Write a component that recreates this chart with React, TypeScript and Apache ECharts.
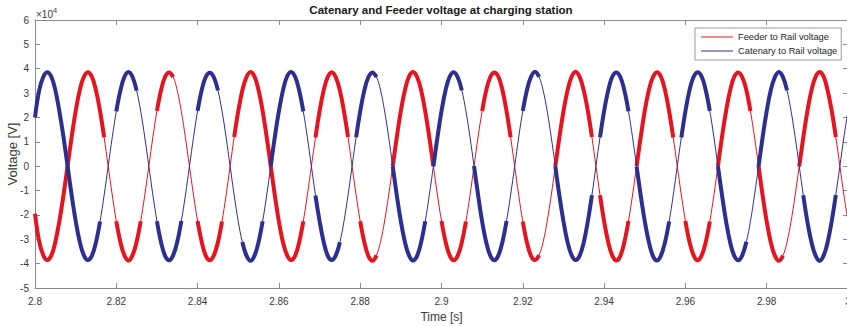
import React, { useEffect, useRef } from "react";
import * as echarts from "echarts";

// Sampling of the recorded traces
const START_TIME = 2.8; // s
const SAMPLE_STEP = 0.001; // s

// Axis ranges and tick spacing
const X_MIN = 2.8;
const X_MAX = 3.0;
const X_STEP = 0.02;
const Y_MIN = -50000;
const Y_MAX = 60000;
const Y_STEP = 10000;
const Y_EXPONENT = 4;

// Feeder to rail voltage [V], one value per millisecond from 2.800 s to 3.000 s
const feederVoltage = [
  -19500, -30700, -36400, -38500, -36700, -31100, -22500, -12000, -100, 11800, 22500, 31100, 36600, 38600, 36700, 31100, 22600, 11900, 100, -11800,
  -22600, -31100, -36600, -38700, -36500, -31000, -22600, -11900, 0, 11900, 22700, 31200, 36700, 38500, 36600, 31000, 22500, 11800, -100, -11900,
  -22500, -31000, -36700, -38600, -36600, -31200, -22700, -12000, 0, 12000, 22600, 31100, 36500, 38700, 36800, 31200, 22700, 11900, 0, -12000,
  -22700, -31200, -36500, -38500, -36700, -31100, -22600, -11800, 100, 11800, 22500, 31000, 36600, 38600, 36500, 31000, 22600, 12000, 0, -11900,
  -22600, -31100, -36800, -38800, -36600, -31000, -22500, -11900, 0, 11900, 22700, 31200, 36800, 38700, 36600, 31100, 22500, 11800, 100, -11800,
  -22500, -31000, -36600, -38600, -36700, -31200, -22700, -12000, -100, 12000, 22600, 31100, 36600, 38500, 36700, 31200, 22600, 11900, 0, -12000,
  -22700, -31200, -36700, -38500, -36500, -31100, -22600, -11900, 0, 11800, 22500, 31000, 36700, 38800, 36600, 31000, 22700, 12000, -100, -11900,
  -22600, -31100, -36600, -38700, -36800, -31000, -22500, -11800, 100, 11900, 22700, 31200, 36500, 38600, 36700, 31100, 22500, 11800, 0, -11800,
  -22500, -31000, -36500, -38600, -36600, -31200, -22700, -12000, 0, 12000, 22600, 31100, 36700, 38500, 36500, 31200, 22600, 11900, 100, -12000,
  -22700, -31200, -36700, -38800, -36700, -31100, -22600, -11900, -100, 11800, 22500, 31000, 36600, 38700, 36800, 31000, 22700, 12000, 0, -11900,
  -22600,
];

// Catenary to rail voltage [V], same sampling
const catenaryVoltage = [
  20000, 30900, 36500, 38600, 36800, 31200, 22500, 12100, 200, -11700, -22400, -31000, -36500, -38500, -36700, -31200, -22700, -12000, -100, 11800,
  22500, 31000, 36700, 38700, 36600, 31000, 22600, 11900, 100, -11800, -22600, -31200, -36800, -38600, -36500, -31000, -22500, -11900, 0, 11900,
  22700, 31200, 36600, 38400, 36500, 31100, 22700, 12000, 0, -11900, -22700, -31100, -36600, -38800, -36700, -31100, -22600, -11800, 100, 12000,
  22600, 31100, 36800, 38700, 36700, 31000, 22500, 11800, -100, -12000, -22500, -31000, -36700, -38500, -36600, -31200, -22700, -12000, 0, 11900,
  22500, 31000, 36500, 38500, 36600, 31200, 22600, 11900, 0, -11900, -22600, -31100, -36600, -38700, -36800, -31100, -22600, -11900, -100, 11800,
  22600, 31200, 36700, 38600, 36500, 31100, 22700, 12000, 100, -11800, -22700, -31200, -36700, -38600, -36600, -31000, -22500, -11800, 0, 12000,
  22700, 31100, 36600, 38800, 36700, 31100, 22600, 11900, 0, -12000, -22600, -31100, -36500, -38500, -36700, -31200, -22600, -11900, 100, 11900,
  22600, 31000, 36700, 38500, 36600, 31000, 22500, 11800, -100, -11900, -22500, -31000, -36800, -38700, -36600, -31100, -22700, -12000, 0, 11800,
  22500, 31100, 36600, 38600, 36800, 31200, 22700, 12000, 0, -11800, -22600, -31200, -36700, -38600, -36500, -31000, -22600, -11900, -100, 11900,
  22600, 31200, 36500, 38700, 36600, 31100, 22600, 11900, 100, -11900, -22700, -31100, -36600, -38800, -36700, -31100, -22500, -11800, 0, 12000,
  22700,
];

// Time stretches [start, end] in seconds where each trace carries heavy switching ripple
const feederRipple = [
  [2.8, 2.817], [2.82, 2.826], [2.83, 2.834], [2.84, 2.846], [2.849, 2.866],
  [2.869, 2.877], [2.88, 2.884], [2.888, 2.898], [2.9, 2.906], [2.91, 2.917],
  [2.92, 2.924], [2.928, 2.937], [2.939, 2.946], [2.948, 2.957], [2.96, 2.966],
  [2.968, 2.976], [2.978, 2.984], [2.988, 2.997],
];
const catenaryRipple = [
  [2.8, 2.816], [2.82, 2.825], [2.83, 2.836], [2.84, 2.845], [2.851, 2.856],
  [2.858, 2.866], [2.869, 2.875], [2.879, 2.884], [2.888, 2.896], [2.898, 2.905],
  [2.908, 2.916], [2.92, 2.924], [2.928, 2.937], [2.939, 2.946], [2.948, 2.956],
  [2.959, 2.966], [2.968, 2.975], [2.978, 2.985], [2.989, 2.997],
];

const FEEDER_NAME = "Feeder to Rail voltage";
const CATENARY_NAME = "Catenary to Rail voltage";
const TITLE = "Catenary and Feeder voltage at charging station";

const FONT = '"Liberation Sans", Arial, Helvetica, sans-serif';
const RED = "#e6141e";
const BLUE = "#2c2f90";
const AXIS_GRAY = "#8a8a8a";
const TEXT_GRAY = "#3a3a3a";

const sampleTimes = feederVoltage.map((_, k) =>
  Number((START_TIME + k * SAMPLE_STEP).toFixed(3))
);

const sampleIndex = (t: number) => Math.round((t - START_TIME) / SAMPLE_STEP);

const inStretch = (k: number, stretches: number[][]) =>
  stretches.some(([s, e]) => k >= sampleIndex(s) && k <= sampleIndex(e));

const tracePoints = (values: number[]) =>
  values.map((v, k) => [sampleTimes[k], v]);

const ripplePoints = (values: number[], stretches: number[][]) =>
  values.map((v, k) => [sampleTimes[k], inStretch(k, stretches) ? v : null]);

const tickLabel = (v: number) => String(Number(v.toFixed(2)));

function buildOption(): echarts.EChartsOption {
  const axisLine = { show: true, onZero: false, lineStyle: { color: AXIS_GRAY, width: 1 } };
  const axisTick = { show: true, inside: true, length: 5, lineStyle: { color: AXIS_GRAY } };
  const labelStyle = { color: TEXT_GRAY, fontSize: 10, fontFamily: FONT };

  const thin = (name: string, values: number[], color: string) => ({
    name,
    type: "line" as const,
    data: tracePoints(values),
    symbol: "none",
    showSymbol: false,
    smooth: 0.4,
    silent: true,
    lineStyle: { color, width: 1 },
    itemStyle: { color },
  });

  const ripple = (name: string, values: number[], stretches: number[][], color: string) => ({
    name,
    type: "line" as const,
    data: ripplePoints(values, stretches),
    symbol: "none",
    showSymbol: false,
    smooth: 0.4,
    silent: true,
    connectNulls: false,
    lineStyle: { color, width: 4, cap: "butt" as const, join: "round" as const },
    itemStyle: { color },
  });

  return {
    animation: false,
    backgroundColor: "#ffffff",
    textStyle: { fontFamily: FONT },
    grid: {
      left: 35,
      top: 20,
      width: 813,
      height: 268,
      containLabel: false,
      outerBoundsMode: "none",
    },
    legend: {
      data: [FEEDER_NAME, CATENARY_NAME],
      orient: "vertical",
      left: 695,
      top: 28,
      backgroundColor: "#ffffff",
      borderColor: "#9a9a9a",
      borderWidth: 1,
      borderRadius: 0,
      padding: [3, 4, 3, 6],
      itemGap: 2,
      icon: "rect",
      itemWidth: 32,
      itemHeight: 1,
      itemStyle: { borderWidth: 0 },
      selectedMode: false,
      textStyle: { fontSize: 9.3, color: "#262626", fontFamily: FONT, lineHeight: 12 },
    },
    xAxis: [
      {
        type: "value",
        position: "bottom",
        min: X_MIN,
        max: X_MAX,
        interval: X_STEP,
        axisLine,
        axisTick,
        splitLine: { show: false },
        axisLabel: { ...labelStyle, margin: 8, formatter: (v: number) => tickLabel(v) },
        name: "Time [s]",
        nameLocation: "middle",
        nameGap: 23,
        nameMoveOverlap: false,
        nameTextStyle: { color: TEXT_GRAY, fontSize: 12, fontFamily: FONT },
      },
      {
        type: "value",
        position: "top",
        min: X_MIN,
        max: X_MAX,
        interval: X_STEP,
        axisLine,
        axisTick,
        splitLine: { show: false },
        axisLabel: { show: false },
      },
    ],
    yAxis: [
      {
        type: "value",
        position: "left",
        min: Y_MIN,
        max: Y_MAX,
        interval: Y_STEP,
        axisLine,
        axisTick,
        splitLine: { show: false },
        axisLabel: {
          ...labelStyle,
          margin: 6,
          formatter: (v: number) => String(v / 10 ** Y_EXPONENT),
        },
        name: "Voltage [V]",
        nameLocation: "middle",
        nameGap: 16,
        nameMoveOverlap: false,
        nameTextStyle: { color: TEXT_GRAY, fontSize: 13, fontFamily: FONT },
      },
      {
        type: "value",
        position: "right",
        min: Y_MIN,
        max: Y_MAX,
        interval: Y_STEP,
        axisLine,
        axisTick,
        splitLine: { show: false },
        axisLabel: { show: false },
      },
    ],
    graphic: [
      {
        type: "text",
        x: 441,
        y: 10,
        silent: true,
        style: {
          text: TITLE,
          fill: "#1a1a1a",
          font: `bold 11.5px ${FONT}`,
          align: "center",
          verticalAlign: "middle",
        },
      },
      {
        type: "text",
        x: 36,
        y: 6,
        silent: true,
        style: {
          text: `{base|\u00d710}{exp|${Y_EXPONENT}}`,
          fill: TEXT_GRAY,
          align: "left",
          verticalAlign: "top",
          rich: {
            base: { fontSize: 10, fontFamily: FONT, fill: TEXT_GRAY, lineHeight: 13, verticalAlign: "bottom" },
            exp: { fontSize: 7.5, fontFamily: FONT, fill: TEXT_GRAY, lineHeight: 13, verticalAlign: "top" },
          },
        },
      },
    ],
    series: [
      thin(FEEDER_NAME, feederVoltage, RED),
      ripple("Feeder ripple", feederVoltage, feederRipple, RED),
      thin(CATENARY_NAME, catenaryVoltage, BLUE),
      ripple("Catenary ripple", catenaryVoltage, catenaryRipple, BLUE),
    ],
  } as echarts.EChartsOption;
}

export default function App() {
  const ref = useRef<HTMLDivElement | null>(null);

  useEffect(() => {
    if (!ref.current) return;
    const chart = echarts.init(ref.current, undefined, { renderer: "svg" });
    chart.setOption(buildOption());
    return () => {
      chart.dispose();
    };
  }, []);

  return (
    <div
      ref={ref}
      style={{
        position: "fixed",
        left: 0,
        top: 0,
        width: 847,
        height: 326,
        background: "#ffffff",
      }}
    />
  );
}
